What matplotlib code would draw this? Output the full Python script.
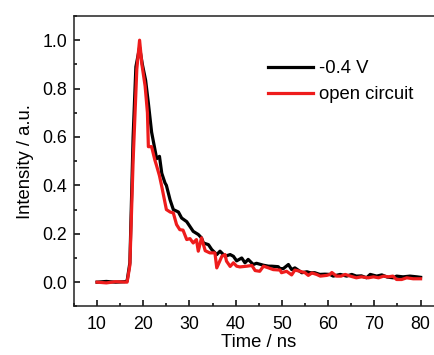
import matplotlib.pyplot as plt
from matplotlib.ticker import MultipleLocator

plt.rcParams['font.family'] = ['Liberation Sans', 'DejaVu Sans']

# -0.4 V trace
t_bias = [10, 12, 14, 16, 16.5, 17.1, 17.8, 18.4, 19.2, 19.8, 20.5, 21.1, 21.8, 22.3,
          22.9, 23.5, 24.0, 24.7, 25.0, 25.8, 26.5, 27.6, 28.3, 29.4, 30.1, 30.8,
          31.9, 32.6, 33.0, 34.1, 34.8, 35.9, 36.6, 37.7, 38.8, 39.5, 40.2, 41.3,
          42.0, 42.7, 43.8, 44.5, 46.0, 47.1, 47.8, 49.2, 49.6, 50.3, 51.4, 52.1,
          52.8, 53.5, 54.3, 55.4, 56.1, 57.1, 58.2, 59.3, 60.4, 61.1, 62.6, 64.0,
          65.1, 66.1, 67.2, 68.3, 69.1, 70.5, 71.6, 72.8, 74.1, 74.8, 76.2, 77.7,
          79.2, 80]
i_bias = [0, 0.003, 0, 0.002, 0.005, 0.08, 0.6, 0.89, 0.97, 0.90, 0.835, 0.74, 0.62,
          0.57, 0.51, 0.52, 0.45, 0.41, 0.40, 0.34, 0.30, 0.29, 0.265, 0.25, 0.23,
          0.21, 0.197, 0.183, 0.162, 0.155, 0.135, 0.114, 0.128, 0.107, 0.114,
          0.107, 0.088, 0.10, 0.08, 0.094, 0.073, 0.078, 0.07, 0.066, 0.066, 0.064,
          0.056, 0.056, 0.073, 0.052, 0.059, 0.05, 0.039, 0.043, 0.039, 0.039,
          0.032, 0.033, 0.032, 0.025, 0.032, 0.025, 0.032, 0.025, 0.026, 0.018,
          0.032, 0.025, 0.03, 0.021, 0.018, 0.025, 0.022, 0.025, 0.022, 0.02]

# open circuit trace
t_oc = [10, 12, 14, 16.5, 17.1, 17.8, 18.6, 19.2, 19.7, 20.4, 20.9, 21.1, 21.8, 22.5,
        22.9, 23.5, 24.0, 25.0, 25.8, 26.5, 27.2, 27.9, 28.6, 29.4, 30.1, 30.8,
        31.5, 31.9, 32.6, 33.4, 34.4, 35.5, 35.9, 37.0, 37.7, 38.0, 38.8, 39.5,
        40.2, 40.9, 42.4, 43.5, 44.2, 45.2, 46.0, 47.1, 48.1, 49.6, 49.9, 51.0,
        52.1, 52.8, 53.9, 55.0, 55.7, 56.5, 57.5, 58.3, 59.7, 60.4, 60.8, 61.8,
        62.8, 63.7, 64.8, 66.1, 67.2, 68.7, 69.8, 70.9, 72.0, 73.0, 74.0, 74.8,
        75.9, 77.0, 78.4, 80]
i_oc = [0, -0.003, 0.002, 0.0, 0.07, 0.5, 0.88, 1.0, 0.90, 0.81, 0.70, 0.56, 0.56,
        0.505, 0.48, 0.44, 0.395, 0.30, 0.29, 0.286, 0.238, 0.217, 0.215, 0.176,
        0.18, 0.162, 0.176, 0.128, 0.183, 0.13, 0.121, 0.121, 0.059, 0.107, 0.114,
        0.087, 0.065, 0.08, 0.066, 0.063, 0.066, 0.069, 0.048, 0.045, 0.066,
        0.059, 0.052, 0.05, 0.039, 0.045, 0.03, 0.05, 0.045, 0.039, 0.028, 0.038,
        0.032, 0.025, 0.028, 0.032, 0.04, 0.025, 0.025, 0.032, 0.025, 0.018,
        0.022, 0.018, 0.022, 0.018, 0.025, 0.022, 0.025, 0.011, 0.011, 0.018,
        0.014, 0.014]

fig = plt.figure(figsize=(4.35, 3.55), dpi=100)
ax = fig.add_axes([0.170, 0.137, 0.850, 0.818])

ax.plot(t_bias, i_bias, color='black', lw=2.3, label='-0.4 V')
ax.plot(t_oc, i_oc, color='#ee1c1c', lw=2.3, label='open circuit')

ax.set_xlim(5, 85)
ax.set_ylim(-0.1, 1.1)
ax.xaxis.set_major_locator(MultipleLocator(10))
ax.xaxis.set_minor_locator(MultipleLocator(5))
ax.yaxis.set_major_locator(MultipleLocator(0.2))
ax.yaxis.set_minor_locator(MultipleLocator(0.1))
ax.yaxis.set_major_formatter(plt.FormatStrFormatter('%.1f'))
ax.tick_params(which='both', direction='in', width=1.1, labelsize=12.8)
ax.tick_params(axis='x', pad=7)
ax.tick_params(axis='y', pad=5)
ax.tick_params(which='major', length=4.5)
ax.tick_params(which='minor', length=2.5)
ax.tick_params(top=False, right=False, which='both')
for s in ax.spines.values():
    s.set_linewidth(1.1)
    s.set_color('#222222')

ax.set_xlabel('Time / ns', fontsize=13.3, labelpad=1)
ax.set_ylabel('Intensity / a.u.', fontsize=13.3, labelpad=6)

ax.legend(loc='upper left', bbox_to_anchor=(268 / 435, 1 - 60 / 355),
          bbox_transform=fig.transFigure, frameon=False, fontsize=13.3,
          handlelength=2.45, handletextpad=0.3, labelspacing=0.5,
          borderpad=0, borderaxespad=0)

fig.savefig('out.png', dpi=100)
